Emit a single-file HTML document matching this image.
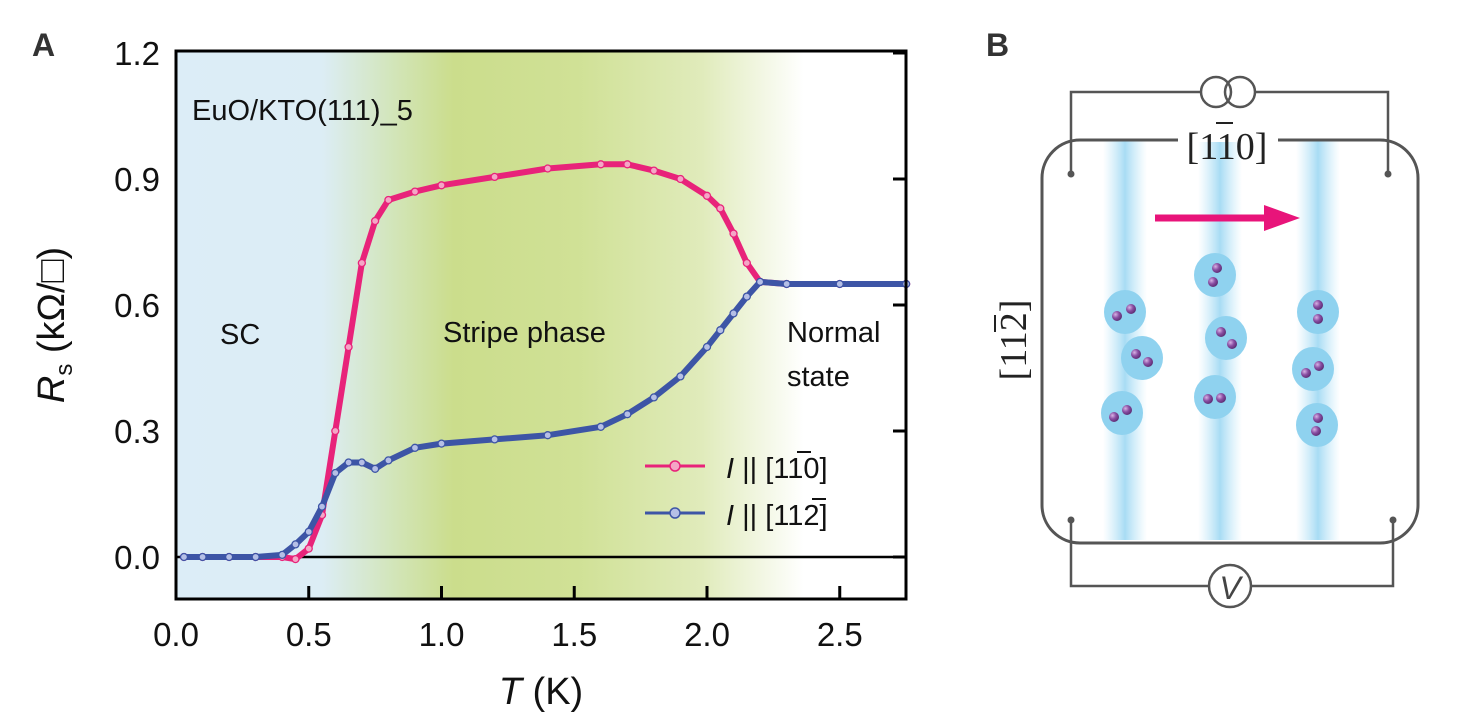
<!DOCTYPE html>
<html><head><meta charset="utf-8"><style>
html,body{margin:0;padding:0;background:#fff;}
svg{display:block;font-family:"Liberation Sans",sans-serif;}
</style></head><body>
<svg id="fig" width="1482" height="726" viewBox="0 0 1482 726" xmlns="http://www.w3.org/2000/svg">
<defs>
<linearGradient id="bg" x1="0" x2="1" y1="0" y2="0">
<stop offset="0" stop-color="#dcedf7"/>
<stop offset="0.2" stop-color="#dcedf5"/>
<stop offset="0.3" stop-color="#d2e5b8"/>
<stop offset="0.38" stop-color="#cbdd8c"/>
<stop offset="0.55" stop-color="#d0e196"/>
<stop offset="0.72" stop-color="#e0ebbb"/>
<stop offset="0.86" stop-color="#ffffff"/>
<stop offset="1" stop-color="#ffffff"/>
</linearGradient>
<linearGradient id="stripe" x1="0" x2="1">
<stop offset="0" stop-color="#bfe6f8" stop-opacity="0"/>
<stop offset="0.5" stop-color="#a8dcf4"/>
<stop offset="1" stop-color="#bfe6f8" stop-opacity="0"/>
</linearGradient>
<radialGradient id="ball" cx="0.35" cy="0.35" r="0.7">
<stop offset="0" stop-color="#d9b3e6"/><stop offset="0.5" stop-color="#8a4fa3"/><stop offset="1" stop-color="#5a2a70"/>
</radialGradient>
</defs>
<text x="32" y="56" font-size="32" font-weight="bold" fill="#333">A</text>
<rect x="176" y="51" width="730" height="548" fill="url(#bg)"/>
<g id="plot"></g>
<rect x="176" y="51" width="730" height="548" fill="none" stroke="#000" stroke-width="3"/>
<text x="192" y="120" font-size="29" fill="#111">EuO/KTO(111)_5</text>
<text x="220" y="344" font-size="29" fill="#111">SC</text>
<text x="443" y="342" font-size="29" fill="#111">Stripe phase</text>
<text x="787" y="342" font-size="29" fill="#111">Normal</text>
<text x="787" y="386" font-size="29" fill="#111">state</text>
<g>
<line x1="645" y1="466" x2="705" y2="466" stroke="#e8237a" stroke-width="3"/><circle cx="675" cy="466" r="5" fill="#f4a6c6" stroke="#e8237a" stroke-width="1.5"/>
<text x="726" y="478" font-size="29" fill="#111"><tspan font-style="italic">I</tspan> || [110]</text>
<line x1="797" y1="452" x2="811" y2="452" stroke="#111" stroke-width="2"/>
<line x1="645" y1="513" x2="705" y2="513" stroke="#3d55a6" stroke-width="3"/><circle cx="675" cy="513" r="5" fill="#b5bfe6" stroke="#3d55a6" stroke-width="1.5"/>
<text x="726" y="525" font-size="29" fill="#111"><tspan font-style="italic">I</tspan> || [112]</text>
<line x1="812" y1="499" x2="826" y2="499" stroke="#111" stroke-width="2"/>
</g>
<g id="axes"></g>
<text transform="translate(64,325) rotate(-90)" text-anchor="middle" font-size="38" fill="#111"><tspan font-style="italic">R</tspan><tspan font-size="24" dy="8">s</tspan><tspan dy="-8"> (kΩ/□)</tspan></text>
<text x="541" y="704" text-anchor="middle" font-size="38" fill="#111"><tspan font-style="italic">T</tspan> (K)</text>

<g>
<text x="986" y="56" font-size="32" font-weight="bold" fill="#333">B</text>
<rect x="1103" y="140" width="44" height="400" fill="url(#stripe)"/>
<rect x="1198" y="140" width="44" height="400" fill="url(#stripe)"/>
<rect x="1296" y="140" width="44" height="400" fill="url(#stripe)"/>
<rect x="1042" y="140" width="376" height="403" rx="38" fill="none" stroke="#555" stroke-width="3"/>
<polyline points="1071,172 1071,92 1202,92" fill="none" stroke="#555" stroke-width="2.5"/>
<polyline points="1254,92 1388,92 1388,172" fill="none" stroke="#555" stroke-width="2.5"/>
<circle cx="1071" cy="174" r="3.5" fill="#555"/><circle cx="1388" cy="174" r="3.5" fill="#555"/>
<circle cx="1216" cy="92" r="15" fill="none" stroke="#555" stroke-width="2.5"/>
<circle cx="1240" cy="92" r="15" fill="none" stroke="#555" stroke-width="2.5"/>
<rect x="1178" y="112" width="100" height="30" fill="#fff"/>
<text x="1227" y="159" text-anchor="middle" font-size="38" font-family="Liberation Serif,serif" fill="#222">[110]</text>
<line x1="1216" y1="123" x2="1233" y2="123" stroke="#222" stroke-width="2"/>
<polyline points="1071,520 1071,586 1209,586" fill="none" stroke="#555" stroke-width="2.5"/>
<polyline points="1251,586 1393,586 1393,520" fill="none" stroke="#555" stroke-width="2.5"/>
<circle cx="1071" cy="520" r="3.5" fill="#555"/><circle cx="1393" cy="520" r="3.5" fill="#555"/>
<circle cx="1230" cy="586" r="21" fill="#fff" stroke="#555" stroke-width="2.5"/>
<text x="1230" y="599" text-anchor="middle" font-size="32" font-style="italic" fill="#444">V</text>
<text transform="translate(1026,340) rotate(-90)" text-anchor="middle" font-size="38" font-family="Liberation Serif,serif" fill="#222">[112]</text>
<line x1="995" y1="315" x2="995" y2="332" stroke="#222" stroke-width="2"/>
<line x1="1155" y1="218" x2="1268" y2="218" stroke="#e8147a" stroke-width="7"/>
<polygon points="1264,205 1300,218 1264,231" fill="#e8147a"/>
<g id="pairs"></g>
</g>
</svg>
<script>
const temps=[0.03,0.1,0.2,0.3,0.4,0.45,0.5,0.55,0.6,0.65,0.7,0.75,0.8,0.9,1.0,1.2,1.4,1.6,1.7,1.8,1.9,2.0,2.05,2.1,2.15,2.2,2.3,2.5,2.75];
const rPink=[0,0,0,0,0,-0.005,0.02,0.1,0.3,0.5,0.7,0.8,0.85,0.87,0.885,0.905,0.925,0.935,0.935,0.92,0.9,0.86,0.83,0.77,0.7,0.655,0.65,0.65,0.65];
const rBlue=[0,0,0,0,0.005,0.03,0.06,0.12,0.2,0.225,0.225,0.21,0.23,0.26,0.27,0.28,0.29,0.31,0.34,0.38,0.43,0.5,0.54,0.58,0.62,0.655,0.65,0.65,0.65];
const xTicks=[0,0.5,1.0,1.5,2.0,2.5];
const yTicks=[0,0.3,0.6,0.9,1.2];
const xTickLabels=["0.0","0.5","1.0","1.5","2.0","2.5"];
const yTickLabels=["0.0","0.3","0.6","0.9","1.2"];
const NS="http://www.w3.org/2000/svg";
function sx(t){return 176+t*265.5;}
function sy(r){return 557-r*420;}
function mk(tag,attrs,parent){const e=document.createElementNS(NS,tag);for(const k in attrs)e.setAttribute(k,attrs[k]);parent.appendChild(e);return e;}
const plot=document.getElementById('plot');
const axes=document.getElementById('axes');
const zl=mk('line',{x1:176,x2:906,y1:sy(0),y2:sy(0),stroke:'#000','stroke-width':2.5},plot);


function series(vals,stroke,fill,name){
  const pts=temps.map((t,i)=>sx(t)+','+sy(vals[i])).join(' ');
  const pl=mk('polyline',{points:pts,fill:'none',stroke:stroke,'stroke-width':6,'stroke-linejoin':'round'},plot);
  
  
  temps.forEach((t,i)=>{
    const c=mk('circle',{cx:sx(t),cy:sy(vals[i]),r:3.5,fill:fill,stroke:stroke,'stroke-width':1.3},plot);
    
    
  });
}
series(rPink,'#e8237a','#f4a6c6','series-pink');
series(rBlue,'#3d55a6','#b5bfe6','series-blue');
xTicks.forEach((t,i)=>{
  const l=mk('line',{x1:sx(t),x2:sx(t),y1:599,y2:586,stroke:'#000','stroke-width':3},axes);
  
  
  const tx=mk('text',{x:sx(t),y:646,'text-anchor':'middle','font-size':33,fill:'#111'},axes);
  tx.textContent=xTickLabels[i];
  
  
});
yTicks.forEach((v,i)=>{
  const l=mk('line',{x1:906,x2:893,y1:sy(v),y2:sy(v),stroke:'#000','stroke-width':3},axes);
  
  
  const tx=mk('text',{x:160,y:sy(v)+12,'text-anchor':'end','font-size':33,fill:'#111'},axes);
  tx.textContent=yTickLabels[i];
  
  
});
const pairs=[[1125,312,-8,4,6,-3],[1142,358,-6,-4,6,4],[1122,413,-8,4,5,-3],[1215,275,2,-7,-2,7],[1226,338,-5,-6,6,6],[1215,397,-7,2,6,1],[1318,312,0,-7,0,7],[1313,369,-7,4,6,-3],[1317,425,1,-7,-1,6]];
const pg=document.getElementById('pairs');
pairs.forEach(p=>{
  const b=mk('ellipse',{cx:p[0],cy:p[1],rx:21,ry:22,fill:'#8fd2ef'},pg);
  
  
  mk('circle',{cx:p[0]+p[2],cy:p[1]+p[3],r:5,fill:'url(#ball)'},pg);
  mk('circle',{cx:p[0]+p[4],cy:p[1]+p[5],r:5,fill:'url(#ball)'},pg);
});
</script>
</body></html>
